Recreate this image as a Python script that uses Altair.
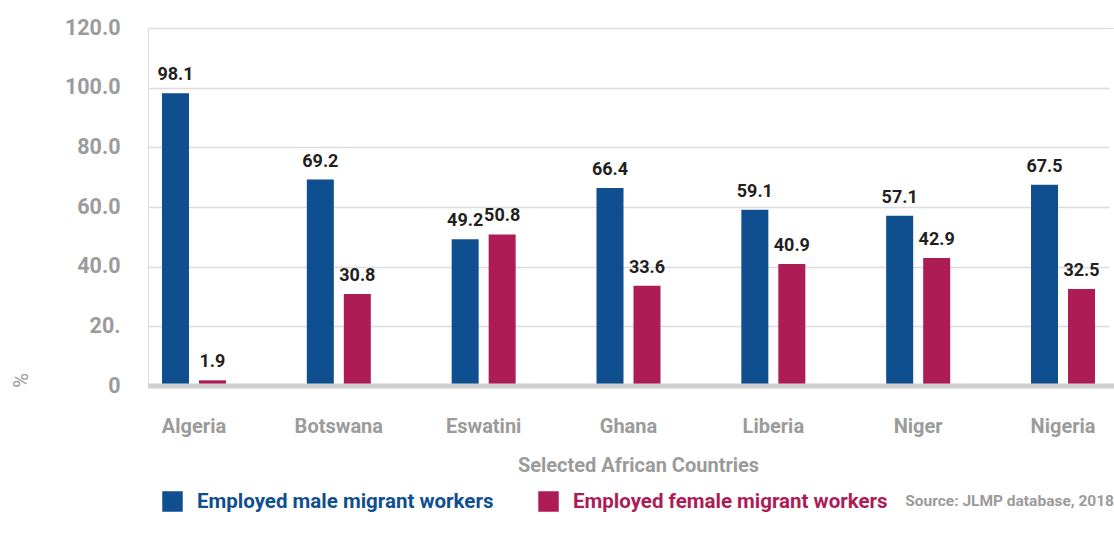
import altair as alt
import pandas as pd

countries = ["Algeria", "Botswana", "Eswatini", "Ghana", "Liberia", "Niger", "Nigeria"]
male = [98.1, 69.2, 49.2, 66.4, 59.1, 57.1, 67.5]
female = [1.9, 30.8, 50.8, 33.6, 40.9, 42.9, 32.5]
series = ["Employed male migrant workers", "Employed female migrant workers"]
colors = ["#0f4f8f", "#ae1c56"]
y_ticks = [0, 20, 40, 60, 80, 100, 120]

rows = []
for c, m, f in zip(countries, male, female):
    rows.append({"country": c, "series": series[0], "value": m})
    rows.append({"country": c, "series": series[1], "value": f})
df = pd.DataFrame(rows)

FONT = "Roboto"
GRAY = "#9b9b9b"

x_enc = alt.X("country:N", sort=countries,
              scale=alt.Scale(paddingInner=0.365, paddingOuter=0, range=[0, 961]),
              axis=alt.Axis(title="Selected African Countries", labelAngle=0,
                            domain=False, ticks=False, labelPadding=30,
                            labelFontSize=20, labelColor=GRAY, labelFontWeight="bold",
                            titleFontSize=20, titleColor=GRAY, titleFontWeight="bold",
                            titlePadding=19, titleX=490, labelFont=FONT, titleFont=FONT))
xo_enc = alt.XOffset("series:N", sort=series,
                     scale=alt.Scale(paddingInner=0.27, paddingOuter=0.378))
y_enc = alt.Y("value:Q",
              scale=alt.Scale(domain=[0, 120], nice=False),
              axis=alt.Axis(values=y_ticks, title="%", domain=False, ticks=False,
                            labelExpr="datum.value == 20 ? '20.' : datum.value == 0 ? '0' : format(datum.value, '.1f')",
                            labelFontSize=21.5, labelColor=GRAY, labelFontWeight="bold",
                            labelPadding=28, gridColor="#dcdcdc", gridWidth=1.5,
                            titleFontSize=20, titleColor=GRAY, titleFontWeight="normal",
                            titleX=-127, titleY=352, titleAngle=-90,
                            titleAlign="center", titleBaseline="middle",
                            labelFont=FONT, titleFont=FONT))

color_enc = alt.Color("series:N", sort=series,
                      scale=alt.Scale(domain=series, range=colors),
                      legend=alt.Legend(title=None, orient="none", legendX=14, legendY=463,
                                        direction="horizontal", symbolType="square",
                                        symbolSize=420, symbolStrokeWidth=0, symbolOpacity=1,
                                        labelFontSize=20.5, labelFont=FONT, labelFontWeight="bold",
                                        labelOffset=14, columnPadding=44, labelLimit=400,
                                        labelColor={"expr": "datum.label == 'Employed male migrant workers' ? '#0f4f8f' : '#ae1c56'"}))

base = alt.Chart(df).encode(x=x_enc, xOffset=xo_enc, y=y_enc)

bars = base.mark_bar().encode(color=color_enc)
labels = base.mark_text(baseline="bottom", dy=-9, fontSize=18, fontWeight="bold",
                        font=FONT, color="#231f20").encode(text=alt.Text("value:Q", format=".1f"))

baseline = alt.Chart(pd.DataFrame({"v": [0]})).mark_rule(color="#d0d0d0", strokeWidth=5).encode(
    y=alt.Y("v:Q"))

source = alt.Chart(pd.DataFrame({"t": ["Source: JLMP database, 2018"]})).mark_text(
    align="right", baseline="middle", fontSize=15.5, fontWeight="bold", font=FONT, color=GRAY
).encode(x=alt.value(966), y=alt.value(473), text="t:N")

chart = alt.layer(bars, labels, baseline, source).properties(
    width=966, height=358,
    autosize=alt.AutoSizeParams(type="none"),
    padding={"left": 148, "top": 28, "right": 0, "bottom": 148},
).configure_view(stroke=None).configure(background="white")

chart.save("out.html", embed_options={"renderer": "svg", "actions": False})
